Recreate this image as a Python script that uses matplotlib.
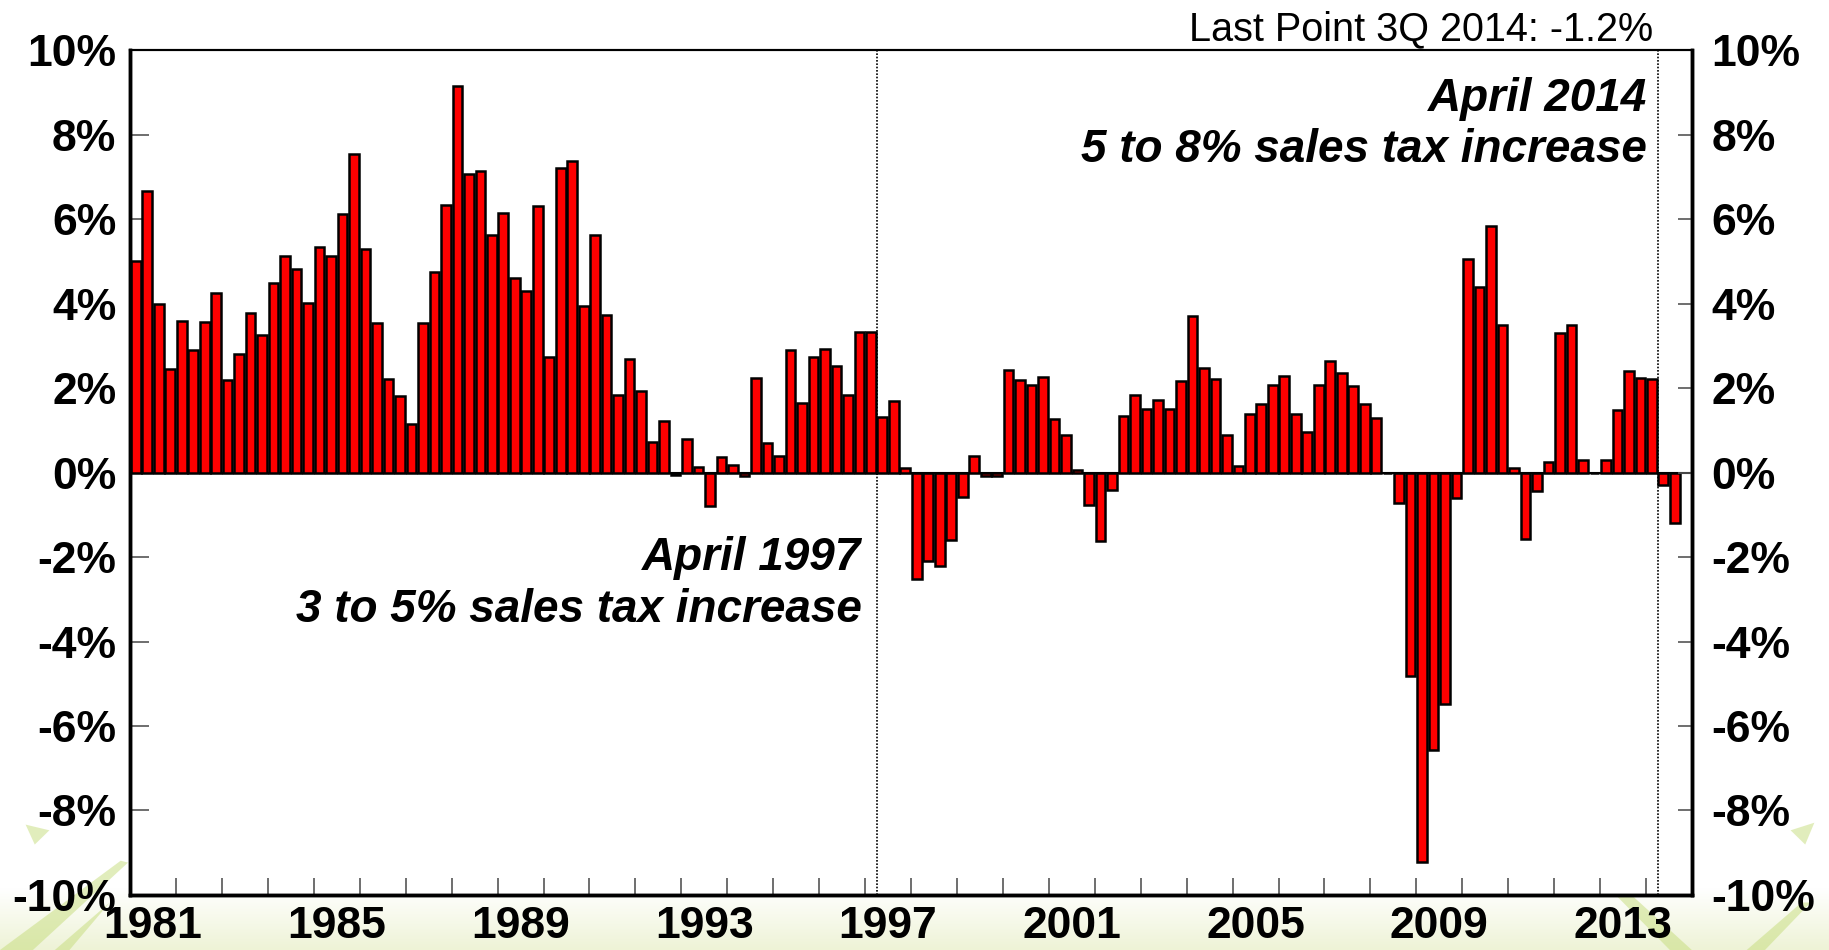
import matplotlib
matplotlib.use("Agg")
import matplotlib.pyplot as plt
import numpy as np
from matplotlib.patches import Polygon

plt.rcParams['font.family'] = ['Liberation Sans', 'DejaVu Sans']

# Japan real GDP, y/y % change, quarterly 1Q 1981 - 3Q 2014
gdp = [
    5.02, 6.67, 3.99, 2.45,     # 1981
    3.60, 2.91, 3.57, 4.26,     # 1982
    2.20, 2.81, 3.79, 3.27,     # 1983
    4.50, 5.14, 4.83, 4.02,     # 1984
    5.35, 5.12, 6.13, 7.55,     # 1985
    5.29, 3.54, 2.22, 1.82,     # 1986
    1.15, 3.54, 4.75, 6.34,     # 1987
    9.15, 7.07, 7.14, 5.62,     # 1988
    6.14, 4.62, 4.30, 6.31,     # 1989
    2.73, 7.22, 7.39, 3.95,     # 1990
    5.62, 3.73, 1.84, 2.70,     # 1991
    1.94, 0.72, 1.22, -0.06,    # 1992
    0.79, 0.14, -0.79, 0.37,    # 1993
    0.19, -0.09, 2.25, 0.69,    # 1994
    0.40, 2.91, 1.65, 2.74,     # 1995
    2.93, 2.53, 1.85, 3.34,     # 1996
    3.33, 1.32, 1.69, 0.11,     # 1997
    -2.53, -2.09, -2.22, -1.59, # 1998
    -0.57, 0.39, -0.09, -0.09,  # 1999
    2.42, 2.20, 2.08, 2.27,     # 2000
    1.28, 0.89, 0.07, -0.77,    # 2001
    -1.62, -0.40, 1.35, 1.85,   # 2002
    1.51, 1.72, 1.51, 2.17,     # 2003
    3.70, 2.48, 2.21, 0.89,     # 2004
    0.16, 1.39, 1.62, 2.07,     # 2005
    2.30, 1.38, 0.96, 2.07,     # 2006
    2.64, 2.35, 2.05, 1.62,     # 2007
    1.29, -0.02, -0.72, -4.81,  # 2008
    -9.21, -6.56, -5.48, -0.60, # 2009
    5.05, 4.39, 5.85, 3.49,     # 2010
    0.11, -1.58, -0.43, 0.26,   # 2011
    3.30, 3.49, 0.30, 0.00,     # 2012
    0.29, 1.48, 2.40, 2.25,     # 2013
    2.22, -0.29, -1.20,         # 2014
]
first_year = 1981
last_year = 2014
label_years = [1981, 1985, 1989, 1993, 1997, 2001, 2005, 2009, 2013]
yticks = [-10, -8, -6, -4, -2, 0, 2, 4, 6, 8, 10]
tax_hikes = [(1997, 2), (2014, 2)]   # (year, quarter)
last_point = "Last Point 3Q 2014: -1.2%"

fig = plt.figure(figsize=(18.29, 9.5), dpi=100)

# slide background: pale green band at the bottom + a few swooshes
bg = fig.add_axes([0, 0, 1, 1], zorder=-10)
bg.set_xlim(0, 1); bg.set_ylim(0, 1); bg.axis('off')
grad = np.linspace(0, 1, 100).reshape(-1, 1)
cmap = matplotlib.colors.LinearSegmentedColormap.from_list('g', ['#eef3d6', '#ffffff'])
bg.imshow(grad, extent=[0, 1, 0, 0.065], aspect='auto', cmap=cmap, origin='lower')
swooshes = [
    [(0.0, 0.0), (0.018, 0.0), (0.07, 0.092), (0.066, 0.094)],
    [(0.03, 0.0), (0.038, 0.0), (0.06, 0.05)],
    [(0.014, 0.132), (0.027, 0.126), (0.019, 0.111)],
    [(0.869, 0.086), (0.876, 0.086), (0.925, 0.0), (0.913, 0.0)],
    [(0.979, 0.126), (0.992, 0.134), (0.987, 0.111)],
    [(0.955, 0.0), (0.965, 0.0), (0.99, 0.05), (0.985, 0.05)],
]
for pts in swooshes:
    bg.add_patch(Polygon(pts, closed=True, color='#c5dc7a', alpha=0.5, lw=0))

ax = fig.add_axes([0.0711, 0.058, 0.854, 0.889])
x = np.arange(len(gdp))
ax.bar(x, gdp, width=0.84, color='#ff0000', edgecolor='black', linewidth=1.8, zorder=3)
ax.axhline(0, color='black', lw=1.5, zorder=2)

nq = (last_year - first_year + 1) * 4
ax.set_xlim(-0.5, nq - 0.5)
ax.set_ylim(-10, 10)

# year boundary ticks, labels centered on each year
ax.set_xticks([-0.5 + 4 * k for k in range(1, last_year - first_year + 1)])
ax.set_xticklabels([])
ax.set_xticks([(y - first_year) * 4 + 1.5 for y in label_years], minor=True)
ax.set_xticklabels([str(y) for y in label_years], minor=True)
ax.tick_params(axis='x', which='major', direction='in', length=12, width=1.2, color='#555555')
ax.tick_params(axis='x', which='minor', length=0, pad=8, labelsize=32)
for t in ax.get_xticklabels(minor=True):
    t.set_fontweight('bold')

ax.set_yticks(yticks)
ax.set_yticklabels([f"{v}%" for v in yticks], fontsize=32, fontweight='bold')
ax.tick_params(axis='y', direction='in', length=14, width=1.2, color='#555555', pad=10)

ax2 = ax.twinx()
ax2.set_ylim(-10, 10)
ax2.set_yticks(yticks)
ax2.set_yticklabels([f"{v}%" for v in yticks], fontsize=32, fontweight='bold')
ax2.tick_params(axis='y', direction='in', length=10, width=1.2, color='#555555', pad=14)

for a in (ax, ax2):
    for s in ['left', 'right', 'bottom']:
        a.spines[s].set_linewidth(2.5)
    a.spines['top'].set_linewidth(1.5)

for yr, q in tax_hikes:
    ax.axvline((yr - first_year) * 4 + q - 1 - 0.5, color='black', lw=1.2,
               linestyle=(0, (1, 1)), zorder=4)

note_style = dict(ha='right', va='baseline', fontsize=33, fontweight='bold', style='italic')
ax.text(63.2, -2.31, "April 1997", **note_style)
ax.text(63.2, -3.54, "3 to 5% sales tax increase", **note_style)
ax.text(131.6, 8.57, "April 2014", **note_style)
ax.text(131.6, 7.36, "5 to 8% sales tax increase", **note_style)

fig.text(1653 / 1829, 1 - 40 / 950, last_point, ha='right', va='baseline', fontsize=28.5)

fig.savefig("out.png", dpi=100)
